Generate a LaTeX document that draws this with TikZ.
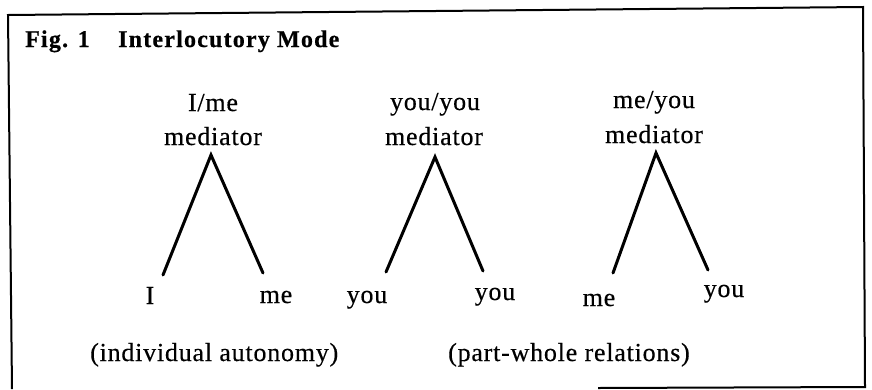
\documentclass[tikz,border=0pt]{standalone}
\usepackage{fontspec}
\setmainfont{Liberation Serif}
\newfontfamily\lblfont[LetterSpace=3,FakeBold=0.4]{Liberation Serif}
\newfontfamily\ttlfont[LetterSpace=5,FakeBold=0.6]{Liberation Serif}
\begin{document}
\begin{tikzpicture}[x=1pt,y=-1pt,
  lbl/.style={inner sep=0pt,anchor=base,font=\lblfont\fontsize{26}{30}\selectfont},
  ttl/.style={inner sep=0pt,anchor=base west,font=\ttlfont\bfseries\fontsize{24}{28}\selectfont},
  leg/.style={line width=3pt,line cap=round},
  frameline/.style={line width=2pt,line join=miter}]
\useasboundingbox (0,0) rectangle (872,389);
% frame
\coordinate (tl) at (8,15);
\coordinate (tr) at (863,7);
\coordinate (br) at (865,387);
\coordinate (bl) at (12,389);
\coordinate (bs) at (598,388);
\draw[frameline] (bl) -- (tl) -- (tr) -- (br) -- (bs);
% title
\node[ttl] (fig) at (25,47) {Fig. 1};
\node[ttl] (ttl) at (118,47) {Interlocutory Mode};
% triangle 1
\node[lbl] (t1a) at (213,111) {I/me};
\node[lbl] (t1b) at (213,145) {mediator};
\coordinate (a1) at (211,155);
\coordinate (l1) at (163,275);
\coordinate (r1) at (263,273);
\draw[leg] (l1) -- (a1) -- (r1);
\node[lbl] (b1l) at (150,304) {I};
\node[lbl] (b1r) at (276,303) {me};
% triangle 2
\node[lbl] (t2a) at (435,110) {you/you};
\node[lbl] (t2b) at (434,145) {mediator};
\coordinate (a2) at (435,157);
\coordinate (l2) at (386,272);
\coordinate (r2) at (483,271);
\draw[leg] (l2) -- (a2) -- (r2);
\node[lbl] (b2l) at (367,303) {you};
\node[lbl] (b2r) at (495,300) {you};
% triangle 3
\node[lbl] (t3a) at (654,108) {me/you};
\node[lbl] (t3b) at (654,143) {mediator};
\coordinate (a3) at (656,153);
\coordinate (l3) at (613,273);
\coordinate (r3) at (708,270);
\draw[leg] (l3) -- (a3) -- (r3);
\node[lbl] (b3l) at (599,306) {me};
\node[lbl] (b3r) at (724,297) {you};
% captions
\node[lbl,anchor=base west] (cap1) at (90,361) {(individual autonomy)};
\node[lbl,anchor=base west] (cap2) at (448,361) {(part-whole relations)};
\end{tikzpicture}
\end{document}
